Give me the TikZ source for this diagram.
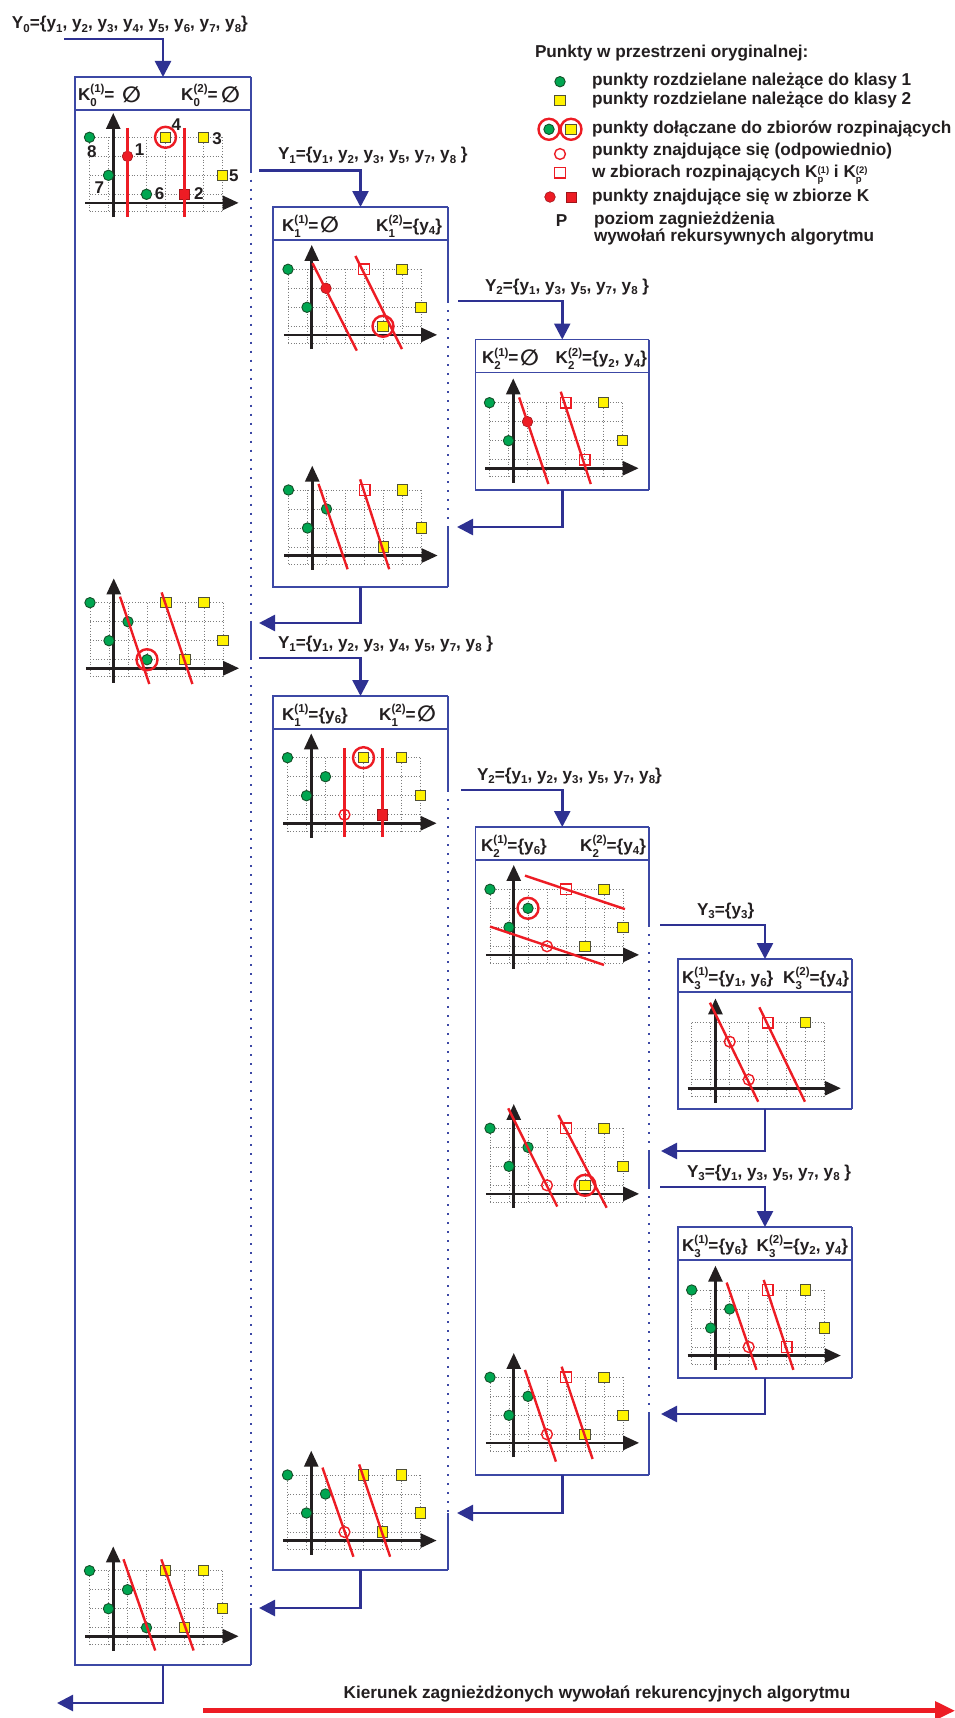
\documentclass[tikz,border=0pt]{standalone}
\usepackage{fontspec}
\setmainfont{Liberation Sans}
\newfontfamily\dejavu{DejaVu Sans}
\usetikzlibrary{arrows.meta}
\definecolor{navy}{RGB}{46,49,146}
\definecolor{boxblue}{RGB}{60,72,165}
\definecolor{rd}{RGB}{237,28,36}
\definecolor{rddark}{RGB}{160,20,25}
\definecolor{gr}{RGB}{0,166,81}
\definecolor{grdark}{RGB}{20,80,40}
\definecolor{yl}{RGB}{255,242,0}
\definecolor{yldark}{RGB}{80,80,55}
\definecolor{gridgray}{RGB}{125,125,125}
\definecolor{ink}{RGB}{35,31,32}

\newcommand\SupSub[5]{{\fontsize{#3}{#3}\selectfont\setbox0=\hbox{#1}\setbox2=\hbox{#2}\dimen0=\wd0 \ifdim\wd2>\dimen0 \dimen0=\wd2\fi\rlap{\raisebox{#4}{\copy0}}\rlap{\raisebox{#5}{\copy2}}\hskip\dimen0}}
\newcommand\Kset[2]{K\SupSub{(#2)}{#1}{11.5}{7.5pt}{-6pt}}
\newcommand\KsetL[2]{K\SupSub{(#2)}{#1}{9.5}{3.8pt}{-5pt}}
\newcommand\lowsub[1]{\raisebox{-3.5pt}{\fontsize{11.5}{11.5}\selectfont #1}}
\newcommand\ys[1]{y\lowsub{#1}}
\newcommand\Ys[1]{Y\lowsub{#1}}
\newcommand\emptyS{\kern1.5pt\raisebox{-1.8pt}{\dejavu\bfseries\fontsize{22}{22}\selectfont ∅}}

\tikzset{
 boxline/.style={boxblue, line width=1.8pt},
 boxdots/.style={boxblue, line width=2pt, dash pattern=on 2pt off 7pt},
 callarrow/.style={navy, line width=2.6pt, -{Triangle[length=16pt,width=16pt]}},
 gridl/.style={gridgray, line width=0.8pt, dash pattern=on 0.9pt off 1.9pt},
 axisl/.style={ink, line width=2.7pt, -{Triangle[length=16pt,width=14pt]}},
 redl/.style={rd, line width=2.4pt},
 redarrow/.style={rd, line width=4.5pt, -{Triangle[length=20pt,width=18pt]}},
 ptg/.style={fill=gr, draw=grdark, line width=0.9pt},
 pty/.style={fill=yl, draw=yldark, line width=0.9pt},
 ptk/.style={fill=rd, draw=rddark, line width=0.6pt},
 pto/.style={draw=rd, line width=1.4pt},
 ringst/.style={draw=rd, line width=2.4pt},
 lbl/.style={inner sep=0, outer sep=0, text=ink, font=\fontsize{17.2}{20}\selectfont\bfseries},
 numl/.style={inner sep=0, outer sep=0, text=ink, font=\fontsize{17}{17}\selectfont\bfseries},
 boxn/.style={inner sep=0, outer sep=0, anchor=north west},
 plotsc/.style={x=19pt, y=-19pt},
}

\newcommand\PlotGrid{%
 \foreach \gc in {0,...,7}{\draw[gridl] (\gc,0) -- (\gc,3.9);}%
 \foreach \gr in {0,1,2,3,3.9}{\draw[gridl] (0,\gr) -- (7,\gr);}%
}
\newcommand\PlotAxes{%
 \draw[axisl] (-0.22,3.45) -- (7.85,3.45);%
 \draw[axisl] (1.25,4.2) -- (1.25,-1.28);%
}
\newcommand\mkG[2]{\draw[ptg] (#1,#2) circle (5.2pt);}
\newcommand\mkY[2]{\draw[pty] ([shift={(-5.2pt,-5.2pt)}]#1,#2) rectangle ([shift={(5.2pt,5.2pt)}]#1,#2);}
\newcommand\mkKC[2]{\draw[ptk] (#1,#2) circle (5.3pt);}
\newcommand\mkKS[2]{\draw[ptk] ([shift={(-5.2pt,-5.2pt)}]#1,#2) rectangle ([shift={(5.2pt,5.2pt)}]#1,#2);}
\newcommand\mkOC[2]{\draw[pto] (#1,#2) circle (5.4pt);}
\newcommand\mkOS[2]{\draw[pto] ([shift={(-5.3pt,-5.3pt)}]#1,#2) rectangle ([shift={(5.3pt,5.3pt)}]#1,#2);}
\newcommand\mkR[2]{\draw[ringst] (#1,#2) circle (10.5pt);}
\newcommand\BoxFrame[1]{%
 \draw[boxline] (#1.north east) -- (#1.north west) -- (#1.south west) -- (#1.south east);%
 \draw[boxline] ([yshift=-33pt]#1.north west) -- ([yshift=-33pt]#1.north east);%
}

\begin{document}
\begin{tikzpicture}[x=1pt,y=-1pt]
\useasboundingbox (0,0) rectangle (955,1718);
\fill[white] (0,0) rectangle (955,1718);

% ---------------- boxes ----------------
\node[boxn, minimum width=176pt, minimum height=1588pt] (b0) at (75,77) {};
\node[boxn, minimum width=175pt, minimum height=380pt] (b1a) at (273,207) {};
\node[boxn, minimum width=175pt, minimum height=874pt] (b1b) at (273,696) {};
\node[boxn, minimum width=173.5pt, minimum height=150.5pt] (b2a) at (475.5,339.5) {};
\node[boxn, minimum width=173.5pt, minimum height=648pt] (b2b) at (475.5,827) {};
\node[boxn, minimum width=174pt, minimum height=150pt] (b3a) at (678,959) {};
\node[boxn, minimum width=174pt, minimum height=151pt] (b3b) at (678,1227) {};
\BoxFrame{b0}\BoxFrame{b1a}\BoxFrame{b1b}\BoxFrame{b2a}\BoxFrame{b2b}\BoxFrame{b3a}\BoxFrame{b3b}

% event coordinates
\coordinate (c0) at (64,39);
\coordinate (c1) at (259,170.7);
\coordinate (t1) at (259,623);
\coordinate (c4) at (259,658);
\coordinate (t4) at (259,1608);
\coordinate (tE) at (57,1703);
\coordinate (c2) at (458,301);
\coordinate (t2) at (457,527);
\coordinate (c5) at (461,790);
\coordinate (t5) at (457,1513);
\coordinate (c6) at (660,925);
\coordinate (t6) at (661,1151);
\coordinate (c7) at (660,1187);
\coordinate (t7) at (661,1414);

% right edges
\draw[boxline] (b0.north east) -- (b0.east |- c1);
\draw[boxdots] (b0.east |- c1) -- (b0.east |- t1);
\draw[boxline] (b0.east |- t1) -- (b0.east |- c4);
\draw[boxdots] (b0.east |- c4) -- (b0.east |- t4);
\draw[boxline] (b0.east |- t4) -- (b0.south east);
\draw[boxline] (b1a.north east) -- (b1a.east |- c2);
\draw[boxdots] (b1a.east |- c2) -- (b1a.east |- t2);
\draw[boxline] (b1a.east |- t2) -- (b1a.south east);
\draw[boxline] (b1b.north east) -- (b1b.east |- c5);
\draw[boxdots] (b1b.east |- c5) -- (b1b.east |- t5);
\draw[boxline] (b1b.east |- t5) -- (b1b.south east);
\draw[boxline] (b2a.north east) -- (b2a.south east);
\draw[boxline] (b2b.north east) -- (b2b.east |- c6);
\draw[boxdots] (b2b.east |- c6) -- (b2b.east |- t6);
\draw[boxline] (b2b.east |- t6) -- (b2b.east |- c7);
\draw[boxdots] (b2b.east |- c7) -- (b2b.east |- t7);
\draw[boxline] (b2b.east |- t7) -- (b2b.south east);
\draw[boxline] (b3a.north east) -- (b3a.south east);
\draw[boxline] (b3b.north east) -- (b3b.south east);

% calls and returns
\draw[callarrow] (c0) -| (b0.north);
\draw[callarrow] (c1) -| (b1a.north);
\draw[callarrow] (c2) -| (b2a.north);
\draw[callarrow] (b2a.south) |- (t2);
\draw[callarrow] (b1a.south) |- (t1);
\draw[callarrow] (c4) -| (b1b.north);
\draw[callarrow] (c5) -| (b2b.north);
\draw[callarrow] (c6) -| (b3a.north);
\draw[callarrow] (b3a.south) |- (t6);
\draw[callarrow] (c7) -| (b3b.north);
\draw[callarrow] (b3b.south) |- (t7);
\draw[callarrow] (b2b.south) |- (t5);
\draw[callarrow] (b1b.south) |- (t4);
\draw[callarrow] (b0.south) |- (tE);

% call labels
\node[lbl, anchor=base west] (lY0) at (12,29) {\Ys{0}=\{\ys{1}, \ys{2}, \ys{3}, \ys{4}, \ys{5}, \ys{6}, \ys{7}, \ys{8}\}};
\node[lbl, anchor=base west] (lY1a) at (278,160) {\Ys{1}=\{\ys{1}, \ys{2}, \ys{3}, \ys{5}, \ys{7}, \ys{8} \}};
\node[lbl, anchor=base west] (lY2a) at (485,291) {\Ys{2}=\{\ys{1}, \ys{3}, \ys{5}, \ys{7}, \ys{8} \}};
\node[lbl, anchor=base west] (lY1b) at (278,648) {\Ys{1}=\{\ys{1}, \ys{2}, \ys{3}, \ys{4}, \ys{5}, \ys{7}, \ys{8} \}};
\node[lbl, anchor=base west] (lY2b) at (477,780) {\Ys{2}=\{\ys{1}, \ys{2}, \ys{3}, \ys{5}, \ys{7}, \ys{8}\}};
\node[lbl, anchor=base west] (lY3a) at (697,915) {\Ys{3}=\{\ys{3}\}};
\node[lbl, anchor=base west] (lY3b) at (687,1177) {\Ys{3}=\{\ys{1}, \ys{3}, \ys{5}, \ys{7}, \ys{8} \}};

% headers
\node[lbl, anchor=base west] (h0l) at (78,100.5) {\Kset{0}{1}=\kern6pt\emptyS};
\node[lbl, anchor=base east] (h0r) at (240,100.5) {\Kset{0}{2}=\kern2pt\emptyS};
\node[lbl, anchor=base west] (h1al) at (282,231) {\Kset{1}{1}=\emptyS};
\node[lbl, anchor=base east] (h1ar) at (442,231) {\Kset{1}{2}=\{\ys{4}\}};
\node[lbl, anchor=base west] (h2al) at (482,363.5) {\Kset{2}{1}=\emptyS};
\node[lbl, anchor=base east] (h2ar) at (647,363.5) {\Kset{2}{2}=\{\ys{2}, \ys{4}\}};
\node[lbl, anchor=base west] (h1bl) at (282,720) {\Kset{1}{1}=\{\ys{6}\}};
\node[lbl, anchor=base east] (h1br) at (436,720) {\Kset{1}{2}=\emptyS};
\node[lbl, anchor=base west] (h2bl) at (481,851) {\Kset{2}{1}=\{\ys{6}\}};
\node[lbl, anchor=base east] (h2br) at (646,851) {\Kset{2}{2}=\{\ys{4}\}};
\node[lbl, anchor=base west] (h3al) at (682,983) {\Kset{3}{1}=\{\ys{1}, \ys{6}\}};
\node[lbl, anchor=base east] (h3ar) at (849,983) {\Kset{3}{2}=\{\ys{4}\}};
\node[lbl, anchor=base west] (h3bl) at (682,1251) {\Kset{3}{1}=\{\ys{6}\}};
\node[lbl, anchor=base east] (h3br) at (848,1251) {\Kset{3}{2}=\{\ys{2}, \ys{4}\}};

% ---------------- plots ----------------
% P0a
\begin{scope}[shift={(89.5,137.3)}, plotsc]
 \PlotGrid\PlotAxes
 \mkG{0}{0}\mkKC{2}{1}\mkG{1}{2}\mkG{3}{3}\mkY{4}{0}\mkY{6}{0}\mkY{7}{2}\mkKS{5}{3}
 \draw[redl] (2,-0.5) -- (2,4.2);
 \draw[redl] (5,-0.5) -- (5,4.2);
 \mkR{4}{0}
 \node[numl] (n1) at (2.64,0.67) {1};
 \node[numl] (n2) at (5.75,2.95) {2};
 \node[numl] (n3) at (6.71,0.05) {3};
 \node[numl] (n4) at (4.57,-0.67) {4};
 \node[numl] (n5) at (7.6,2.0) {5};
 \node[numl] (n6) at (3.69,2.98) {6};
 \node[numl] (n7) at (0.52,2.63) {7};
 \node[numl] (n8) at (0.12,0.78) {8};
\end{scope}
% P1a top
\begin{scope}[shift={(288,269.3)}, plotsc]
 \PlotGrid\PlotAxes
 \mkG{0}{0}\mkKC{2}{1}\mkG{1}{2}\mkY{6}{0}\mkY{7}{2}\mkY{5}{3}
 \draw[redl] (1.29,-0.32) -- (3.62,4.28);
 \draw[redl] (3.55,-0.7) -- (6.0,4.2);
 \mkOS{4}{0}\mkR{5}{3}
\end{scope}
% P2a
\begin{scope}[shift={(489.5,402.7)}, plotsc]
 \PlotGrid\PlotAxes
 \mkG{0}{0}\mkKC{2}{1}\mkG{1}{2}\mkY{6}{0}\mkY{7}{2}
 \draw[redl] (1.56,-0.28) -- (3.1,4.28);
 \draw[redl] (3.75,-0.58) -- (5.33,4.28);
 \mkOS{4}{0}\mkOS{5}{3}
\end{scope}
% P1a bottom
\begin{scope}[shift={(288.5,490)}, plotsc]
 \PlotGrid\PlotAxes
 \mkG{0}{0}\mkG{2}{1}\mkG{1}{2}\mkY{6}{0}\mkY{7}{2}\mkY{5}{3}
 \draw[redl] (1.58,-0.32) -- (3.11,4.17);
 \draw[redl] (3.77,-0.56) -- (5.3,4.17);
 \mkOS{4}{0}
\end{scope}
% P0b
\begin{scope}[shift={(90,602.7)}, plotsc]
 \PlotGrid\PlotAxes
 \mkG{0}{0}\mkG{2}{1}\mkG{1}{2}\mkG{3}{3}\mkY{4}{0}\mkY{6}{0}\mkY{7}{2}\mkY{5}{3}
 \draw[redl] (1.58,-0.32) -- (3.12,4.28);
 \draw[redl] (3.77,-0.54) -- (5.39,4.28);
 \mkR{3}{3}
\end{scope}
% P1b top
\begin{scope}[shift={(287.5,757.7)}, plotsc]
 \PlotGrid\PlotAxes
 \mkG{0}{0}\mkG{2}{1}\mkG{1}{2}\mkY{4}{0}\mkY{6}{0}\mkY{7}{2}\mkKS{5}{3}
 \draw[redl] (3,-0.49) -- (3,4.16);
 \draw[redl] (5,-0.49) -- (5,4.16);
 \mkOC{3}{3}\mkR{4}{0}
\end{scope}
% P2b top
\begin{scope}[shift={(490,889.3)}, plotsc]
 \PlotGrid\PlotAxes
 \mkG{0}{0}\mkG{2}{1}\mkG{1}{2}\mkY{6}{0}\mkY{7}{2}\mkY{5}{3}
 \draw[redl] (1.84,-0.72) -- (7.1,1.04);
 \draw[redl] (0,1.96) -- (6.0,3.98);
 \mkOC{3}{3}\mkOS{4}{0}\mkR{2}{1}
\end{scope}
% P3a
\begin{scope}[shift={(691.7,1022.7)}, plotsc]
 \PlotGrid\PlotAxes
 \mkY{6}{0}
 \draw[redl] (0.96,-1.05) -- (3.5,4.16);
 \draw[redl] (3.56,-0.81) -- (5.96,4.16);
 \mkOS{4}{0}\mkOC{2}{1}\mkOC{3}{3}
\end{scope}
% P2b middle
\begin{scope}[shift={(490,1128.3)}, plotsc]
 \PlotGrid\PlotAxes
 \mkG{0}{0}\mkG{2}{1}\mkG{1}{2}\mkY{6}{0}\mkY{7}{2}\mkY{5}{3}
 \draw[redl] (0.96,-1.05) -- (3.54,4.12);
 \draw[redl] (3.6,-0.7) -- (6.14,4.18);
 \mkOC{3}{3}\mkOS{4}{0}\mkR{5}{3}
\end{scope}
% P3b
\begin{scope}[shift={(691.7,1290)}, plotsc]
 \PlotGrid\PlotAxes
 \mkG{0}{0}\mkG{2}{1}\mkG{1}{2}\mkY{6}{0}\mkY{7}{2}
 \draw[redl] (1.84,-0.39) -- (3.41,4.2);
 \draw[redl] (3.79,-0.53) -- (5.35,4.2);
 \mkOC{3}{3}\mkOS{4}{0}\mkOS{5}{3}
\end{scope}
% P2b bottom
\begin{scope}[shift={(490,1377.3)}, plotsc]
 \PlotGrid\PlotAxes
 \mkG{0}{0}\mkG{2}{1}\mkG{1}{2}\mkY{6}{0}\mkY{7}{2}\mkY{5}{3}
 \draw[redl] (1.84,-0.39) -- (3.47,4.44);
 \draw[redl] (3.77,-0.56) -- (5.4,4.3);
 \mkOC{3}{3}\mkOS{4}{0}
\end{scope}
% P1b bottom
\begin{scope}[shift={(287.5,1475)}, plotsc]
 \PlotGrid\PlotAxes
 \mkG{0}{0}\mkG{2}{1}\mkG{1}{2}\mkY{4}{0}\mkY{6}{0}\mkY{7}{2}\mkY{5}{3}
 \draw[redl] (1.84,-0.39) -- (3.47,4.3);
 \draw[redl] (3.77,-0.56) -- (5.4,4.3);
 \mkOC{3}{3}
\end{scope}
% P0c
\begin{scope}[shift={(89.5,1570.7)}, plotsc]
 \PlotGrid\PlotAxes
 \mkG{0}{0}\mkG{2}{1}\mkG{1}{2}\mkG{3}{3}\mkY{4}{0}\mkY{6}{0}\mkY{7}{2}\mkY{5}{3}
 \draw[redl] (1.79,-0.6) -- (3.46,4.2);
 \draw[redl] (3.78,-0.6) -- (5.48,4.2);
\end{scope}

% ---------------- legend ----------------
\node[lbl, anchor=base west] (lgT) at (535,57.5) {Punkty w przestrzeni oryginalnej:};
\mkG{560}{81.7}
\node[lbl, anchor=base west] (lg1) at (592,86) {punkty rozdzielane należące do klasy 1};
\mkY{560}{100.7}
\node[lbl, anchor=base west] (lg2) at (592,104.5) {punkty rozdzielane należące do klasy 2};
\mkG{549}{129.3}\mkR{549}{129.3}\mkY{571}{129.3}\mkR{571}{129.3}
\node[lbl, anchor=base west] (lg3) at (592,133.5) {punkty dołączane do zbiorów rozpinających};
\mkOC{560}{154}
\node[lbl, anchor=base west] (lg4) at (592,155.5) {punkty znajdujące się (odpowiednio)};
\mkOS{560}{172.5}
\node[lbl, anchor=base west] (lg5) at (592,177.5) {w zbiorach rozpinających \KsetL{p}{1} i \KsetL{p}{2}};
\mkKC{550}{197}\mkKS{571}{197}
\node[lbl, anchor=base west] (lg6) at (592,201.5) {punkty znajdujące się w zbiorze K};
\node[lbl, anchor=base] (lgP) at (561.7,226.5) {P};
\node[lbl, anchor=base west] (lg7) at (594,224.5) {poziom zagnieżdżenia};
\node[lbl, anchor=base west] (lg8) at (594,241.5) {wywołań rekursywnych algorytmu};

% ---------------- bottom arrow ----------------
\coordinate (ra1) at (203,1710.7);
\coordinate (ra2) at (955,1710.7);
\draw[redarrow] (ra1) -- (ra2);
\node[lbl, anchor=base] (lK) at (597,1698) {Kierunek zagnieżdżonych wywołań rekurencyjnych algorytmu};
\end{tikzpicture}
\end{document}
